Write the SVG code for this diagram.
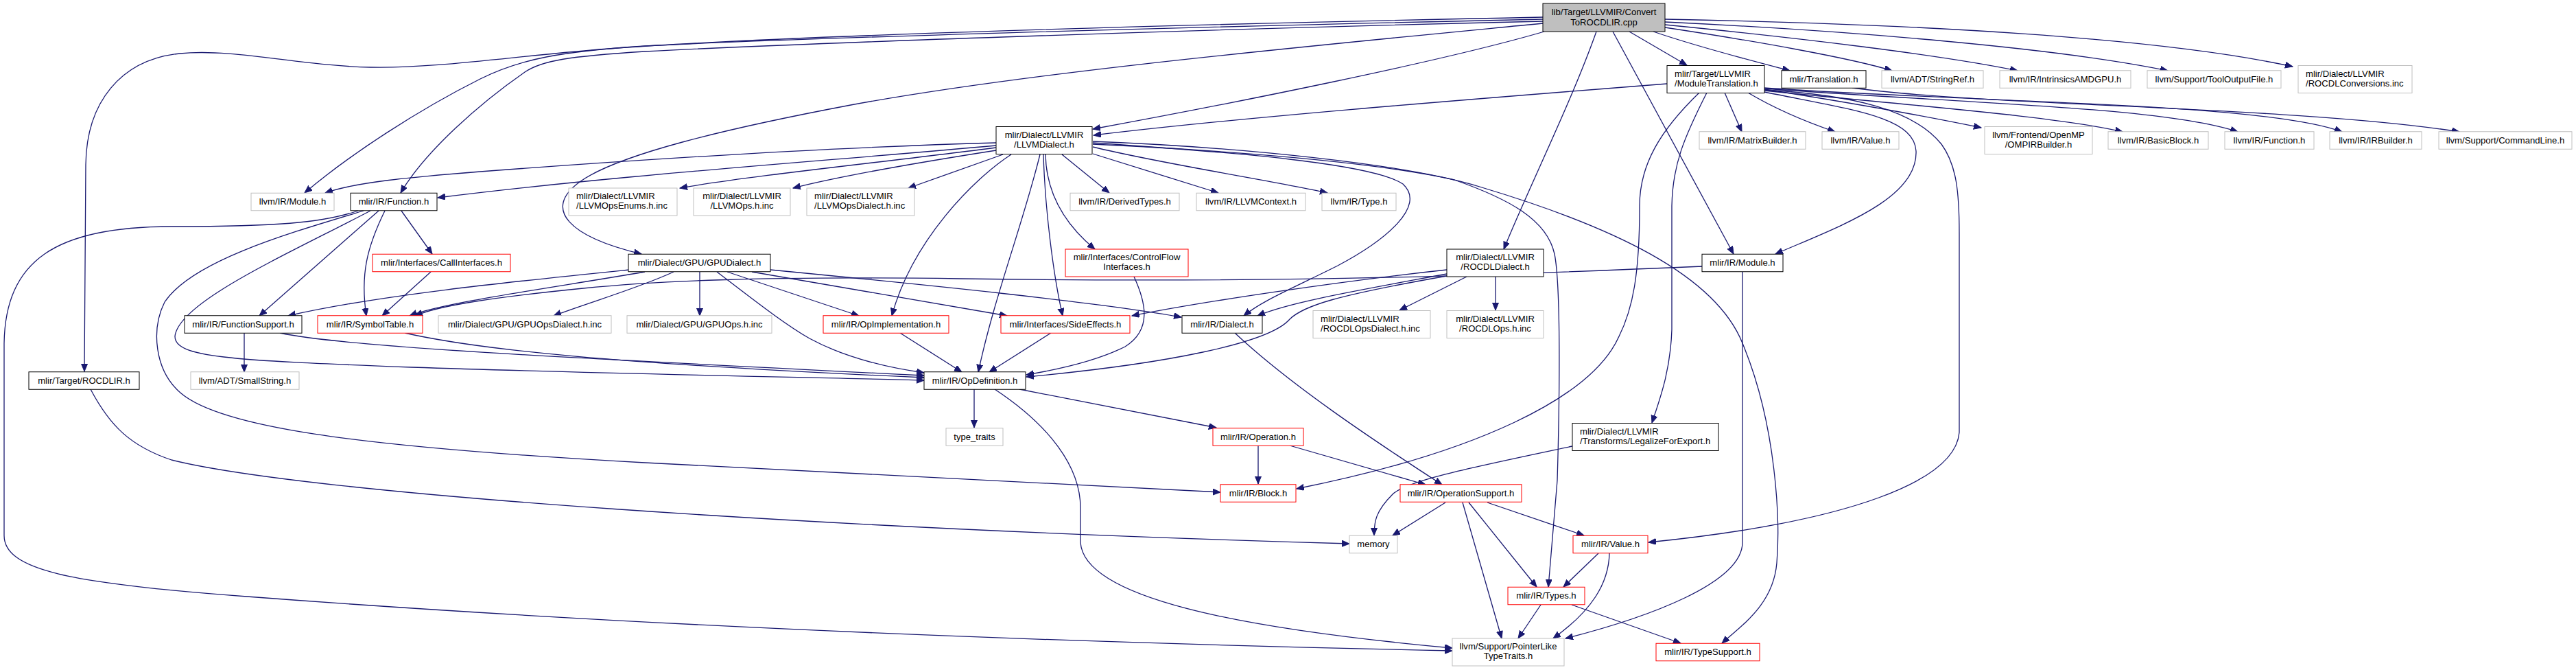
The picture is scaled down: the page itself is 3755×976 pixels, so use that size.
<svg xmlns="http://www.w3.org/2000/svg" width="3755" height="976" viewBox="0 0 3755 976">
<style>
rect{fill:#fff;stroke-width:1}
.k rect{stroke:#000}
.g rect{stroke:#bfbfbf}
.r rect{stroke:#ff0000}
.m rect{fill:#bfbfbf;stroke:#000}
text{font-family:"Liberation Sans",Arial,Helvetica,sans-serif;font-size:13.1px;fill:#000;text-anchor:middle}
text.l{text-anchor:start}
#edges path{fill:none;stroke:#191970;stroke-width:1.3;marker-end:url(#a)}
</style>
<defs>
<marker id="a" markerUnits="userSpaceOnUse" markerWidth="12" markerHeight="10" refX="11" refY="4.5" orient="auto">
<path d="M0,0 L11,4.5 L0,9 z" fill="#191970" stroke="#191970" stroke-width="1"/>
</marker>
</defs>
<rect x="0" y="0" width="3755" height="976" style="fill:#fff;stroke:none"/>
<g id="edges">
<path d="M2249,25 C1700,36 1150,52 900,70 C760,80 640,100 540,98 C440,96 340,70 262,78 C175,87 126,150 125,240 L123,541"/>
<path d="M2249,28 C1700,40 1150,56 940,67 C820,75 760,85 700,115 C610,160 510,225 444,281"/>
<path d="M2249,31 C1700,44 1150,64 940,75 C830,82 790,88 765,105 C700,150 620,220 584,281"/>
<path d="M2249,34 C1900,68 1500,105 1240,153 C1060,187 900,225 845,265 C790,305 830,345 935,370"/>
<path d="M2251,46 C2100,90 1800,150 1593,188"/>
<path d="M2327,46 C2290,150 2230,270 2192,363"/>
<path d="M2351,46 L2527,370"/>
<path d="M2375,46 L2459,95"/>
<path d="M2410,46 C2480,70 2560,90 2609,103"/>
<path d="M2427,40 C2560,60 2700,85 2758,103"/>
<path d="M2427,36 C2620,55 2830,80 2941,103"/>
<path d="M2427,32 C2700,45 3000,70 3160,103"/>
<path d="M2427,28 C2800,35 3150,55 3342,97"/>
<path d="M2430,122 C2100,148 1800,172 1594,197"/>
<path d="M2514,135 L2539,192"/>
<path d="M2548,135 C2590,160 2640,180 2675,192"/>
<path d="M2572,130 C2700,150 2820,172 2888,186"/>
<path d="M2572,132 C2800,155 3000,170 3094,192"/>
<path d="M2572,129 C2850,150 3150,155 3262,192"/>
<path d="M2572,128 C2900,150 3300,150 3414,192"/>
<path d="M2700,128 C2900,155 3350,155 3585,192"/>
<path d="M2572,134 C2700,160 2790,170 2793,220 C2796,290 2680,330 2588,370"/>
<path d="M2477,135 C2420,190 2390,240 2390,300 C2390,400 2380,450 2360,490 C2320,580 2150,660 1890,712"/>
<path d="M2488,135 C2455,200 2438,240 2437,300 L2437,480 C2435,540 2420,580 2408,616"/>
<path d="M2572,131 C2700,138 2790,160 2830,210 C2852,240 2856,280 2856,340 L2856,630 C2850,700 2700,760 2403,790"/>
<path d="M1452,208 C1200,215 900,235 700,250 C600,258 520,265 474,281"/>
<path d="M1452,212 C1200,235 900,255 638,288"/>
<path d="M1452,215 C1300,235 1100,255 991,274"/>
<path d="M1452,219 C1350,235 1230,255 1156,274"/>
<path d="M1462,225 L1324,274"/>
<path d="M1548,225 L1617,281"/>
<path d="M1593,224 L1776,281"/>
<path d="M1593,214 C1700,240 1850,262 1935,281"/>
<path d="M1524,225 C1525,280 1550,325 1596,363"/>
<path d="M1521,225 C1523,300 1535,400 1549,460"/>
<path d="M1474,225 C1420,260 1330,350 1300,460"/>
<path d="M1516,225 C1490,330 1450,430 1426,542"/>
<path d="M1593,208 C1800,222 2000,238 2045,268 C2080,300 2020,350 1950,387 C1880,422 1840,438 1813,460"/>
<path d="M1593,210 C1800,220 2000,235 2120,262 C2200,290 2255,320 2266,370 C2276,420 2273,600 2270,700 L2257,855"/>
<path d="M1593,206 C1800,214 2050,238 2160,273 C2350,330 2500,400 2540,500 C2590,620 2595,760 2590,820 C2585,880 2540,910 2510,937"/>
<path d="M522,307 C470,325 400,330 250,330 C80,330 8,380 6,500 L6,780 C6,830 100,850 360,869 C900,910 1500,935 2117,948"/>
<path d="M530,307 C420,340 280,380 240,440 C220,480 225,540 264,573 C320,620 500,650 940,674 C1300,695 1600,710 1779,717"/>
<path d="M540,307 C420,370 260,440 255,490 C255,520 330,525 600,535 C900,545 1200,550 1347,554"/>
<path d="M552,307 L378,460"/>
<path d="M561,307 C535,360 525,400 534,460"/>
<path d="M585,307 L630,370"/>
<path d="M628,396 L557,460"/>
<path d="M356,485 L356,542"/>
<path d="M408,485 C500,505 800,520 1347,547"/>
<path d="M590,485 C700,510 900,530 1347,550"/>
<path d="M917,393 C750,410 550,430 420,460"/>
<path d="M940,396 C800,420 650,440 597,460"/>
<path d="M982,396 C930,420 860,440 807,460"/>
<path d="M1020,396 L1020,460"/>
<path d="M1060,396 L1252,460"/>
<path d="M1096,396 L1468,460"/>
<path d="M1123,393 C1350,415 1600,440 1722,462"/>
<path d="M1045,396 C1090,430 1140,470 1180,493 C1230,520 1290,535 1347,543"/>
<path d="M1653,403 C1670,440 1680,480 1640,505 C1600,525 1550,537 1496,546"/>
<path d="M1532,485 L1442,542"/>
<path d="M1312,485 L1402,542"/>
<path d="M2109,402 C1950,430 1900,445 1880,465 C1850,500 1700,530 1496,549"/>
<path d="M2109,393 C1950,410 1750,440 1650,460"/>
<path d="M2109,399 C1980,423 1880,440 1833,460"/>
<path d="M2138,403 L2040,452"/>
<path d="M2180,403 L2180,452"/>
<path d="M2481,388 C2200,400 1900,413 1400,406 C1100,402 950,410 850,420 C720,433 640,445 605,460"/>
<path d="M2540,396 L2540,790 C2540,850 2400,900 2282,930"/>
<path d="M1800,485 C1880,560 2000,640 2102,706"/>
<path d="M1420,567 L1420,623"/>
<path d="M1486,567 L1773,623"/>
<path d="M1450,567 C1530,620 1575,680 1575,740 L1575,790 C1580,870 1800,915 2117,944"/>
<path d="M1834,649 L1834,705"/>
<path d="M1880,649 L2078,706"/>
<path d="M2107,732 L2030,780"/>
<path d="M2141,732 L2240,855"/>
<path d="M2132,732 L2189,930"/>
<path d="M2168,732 L2309,780"/>
<path d="M2292,650 C2150,680 2050,700 2030,720 C2005,745 2003,760 2003,780"/>
<path d="M132,567 C160,620 190,650 250,670 C450,720 1200,770 1967,792"/>
<path d="M2330,806 L2279,855"/>
<path d="M2346,806 C2345,850 2320,890 2264,930"/>
<path d="M2246,881 L2213,930"/>
<path d="M2291,881 L2450,937"/>
</g>
<g id="n_main" class="m"><rect x="2249" y="5" width="178" height="41"/><text x="2338" y="22">lib/Target/LLVMIR/Convert</text><text x="2338" y="36.5">ToROCDLIR.cpp</text></g>
<g id="n_moduletranslation" class="k"><rect x="2430" y="95.5" width="142" height="40"/><text class="l" x="2441" y="111.8">mlir/Target/LLVMIR</text><text class="l" x="2441" y="125.8">/ModuleTranslation.h</text></g>
<g id="n_translation" class="k"><rect x="2597" y="102.75" width="123" height="25.5"/><text x="2658.5" y="119.8">mlir/Translation.h</text></g>
<g id="n_stringref" class="g"><rect x="2743" y="102.75" width="148" height="25.5"/><text x="2817" y="119.8">llvm/ADT/StringRef.h</text></g>
<g id="n_intrinsics" class="g"><rect x="2915" y="102.75" width="191" height="25.5"/><text x="3010.5" y="119.8">llvm/IR/IntrinsicsAMDGPU.h</text></g>
<g id="n_tooloutput" class="g"><rect x="3130" y="102.75" width="195" height="25.5"/><text x="3227.5" y="119.8">llvm/Support/ToolOutputFile.h</text></g>
<g id="n_rocdlconv" class="g"><rect x="3350" y="95.5" width="166" height="40"/><text class="l" x="3361" y="111.8">mlir/Dialect/LLVMIR</text><text class="l" x="3361" y="125.8">/ROCDLConversions.inc</text></g>
<g id="n_llvmdialect" class="k"><rect x="1452" y="184.5" width="140" height="40"/><text x="1522" y="200.8">mlir/Dialect/LLVMIR</text><text x="1522" y="214.8">/LLVMDialect.h</text></g>
<g id="n_matrixbuilder" class="g"><rect x="2477" y="191.75" width="155" height="25.5"/><text x="2554.5" y="208.8">llvm/IR/MatrixBuilder.h</text></g>
<g id="n_llvmvalue" class="g"><rect x="2656" y="191.75" width="112" height="25.5"/><text x="2712" y="208.8">llvm/IR/Value.h</text></g>
<g id="n_ompirbuilder" class="g"><rect x="2893" y="184.5" width="157" height="40"/><text x="2971.5" y="200.8">llvm/Frontend/OpenMP</text><text x="2971.5" y="214.8">/OMPIRBuilder.h</text></g>
<g id="n_basicblock" class="g"><rect x="3073" y="191.75" width="146" height="25.5"/><text x="3146" y="208.8">llvm/IR/BasicBlock.h</text></g>
<g id="n_llvmfunction" class="g"><rect x="3243" y="191.75" width="130" height="25.5"/><text x="3308" y="208.8">llvm/IR/Function.h</text></g>
<g id="n_irbuilder" class="g"><rect x="3396" y="191.75" width="134" height="25.5"/><text x="3463" y="208.8">llvm/IR/IRBuilder.h</text></g>
<g id="n_commandline" class="g"><rect x="3555" y="191.75" width="194" height="25.5"/><text x="3652" y="208.8">llvm/Support/CommandLine.h</text></g>
<g id="n_llvmmodule" class="g"><rect x="366" y="281.25" width="121" height="25.5"/><text x="426.5" y="298.3">llvm/IR/Module.h</text></g>
<g id="n_function" class="k"><rect x="511" y="281.25" width="126" height="25.5"/><text x="574" y="298.3">mlir/IR/Function.h</text></g>
<g id="n_llvmopsenums" class="g"><rect x="829" y="274" width="158" height="40"/><text class="l" x="840" y="290.3">mlir/Dialect/LLVMIR</text><text class="l" x="840" y="304.3">/LLVMOpsEnums.h.inc</text></g>
<g id="n_llvmops" class="g"><rect x="1011" y="274" width="141" height="40"/><text x="1081.5" y="290.3">mlir/Dialect/LLVMIR</text><text x="1081.5" y="304.3">/LLVMOps.h.inc</text></g>
<g id="n_llvmopsdialect" class="g"><rect x="1176" y="274" width="157" height="40"/><text class="l" x="1187" y="290.3">mlir/Dialect/LLVMIR</text><text class="l" x="1187" y="304.3">/LLVMOpsDialect.h.inc</text></g>
<g id="n_derivedtypes" class="g"><rect x="1560" y="281.25" width="159" height="25.5"/><text x="1639.5" y="298.3">llvm/IR/DerivedTypes.h</text></g>
<g id="n_llvmcontext" class="g"><rect x="1744" y="281.25" width="159" height="25.5"/><text x="1823.5" y="298.3">llvm/IR/LLVMContext.h</text></g>
<g id="n_type" class="g"><rect x="1927" y="281.25" width="108" height="25.5"/><text x="1981" y="298.3">llvm/IR/Type.h</text></g>
<g id="n_callinterfaces" class="r"><rect x="543" y="370.25" width="201" height="25.5"/><text x="643.5" y="387.3">mlir/Interfaces/CallInterfaces.h</text></g>
<g id="n_gpudialect" class="k"><rect x="916" y="370.25" width="207" height="25.5"/><text x="1019.5" y="387.3">mlir/Dialect/GPU/GPUDialect.h</text></g>
<g id="n_controlflow" class="r"><rect x="1553" y="363" width="179" height="40"/><text x="1642.5" y="379.3">mlir/Interfaces/ControlFlow</text><text x="1642.5" y="393.3">Interfaces.h</text></g>
<g id="n_rocdldialect" class="k"><rect x="2109" y="363" width="141" height="40"/><text x="2179.5" y="379.3">mlir/Dialect/LLVMIR</text><text x="2179.5" y="393.3">/ROCDLDialect.h</text></g>
<g id="n_mlirmodule" class="k"><rect x="2481" y="370.25" width="118" height="25.5"/><text x="2540" y="387.3">mlir/IR/Module.h</text></g>
<g id="n_functionsupport" class="k"><rect x="269" y="459.75" width="171" height="25.5"/><text x="354.5" y="476.8">mlir/IR/FunctionSupport.h</text></g>
<g id="n_symboltable" class="r"><rect x="463" y="459.75" width="153" height="25.5"/><text x="539.5" y="476.8">mlir/IR/SymbolTable.h</text></g>
<g id="n_gpuopsdialect" class="g"><rect x="639" y="459.75" width="252" height="25.5"/><text x="765" y="476.8">mlir/Dialect/GPU/GPUOpsDialect.h.inc</text></g>
<g id="n_gpuops" class="g"><rect x="914" y="459.75" width="211" height="25.5"/><text x="1019.5" y="476.8">mlir/Dialect/GPU/GPUOps.h.inc</text></g>
<g id="n_opimplementation" class="r"><rect x="1200" y="459.75" width="183" height="25.5"/><text x="1291.5" y="476.8">mlir/IR/OpImplementation.h</text></g>
<g id="n_sideeffects" class="r"><rect x="1459" y="459.75" width="188" height="25.5"/><text x="1553" y="476.8">mlir/Interfaces/SideEffects.h</text></g>
<g id="n_dialect" class="k"><rect x="1723" y="459.75" width="117" height="25.5"/><text x="1781.5" y="476.8">mlir/IR/Dialect.h</text></g>
<g id="n_rocdlopsdialect" class="g"><rect x="1914" y="452.5" width="171" height="40"/><text class="l" x="1925" y="468.8">mlir/Dialect/LLVMIR</text><text class="l" x="1925" y="482.8">/ROCDLOpsDialect.h.inc</text></g>
<g id="n_rocdlops" class="g"><rect x="2109" y="452.5" width="141" height="40"/><text x="2179.5" y="468.8">mlir/Dialect/LLVMIR</text><text x="2179.5" y="482.8">/ROCDLOps.h.inc</text></g>
<g id="n_rocdlir" class="k"><rect x="42" y="541.75" width="161" height="25.5"/><text x="122.5" y="558.8">mlir/Target/ROCDLIR.h</text></g>
<g id="n_smallstring" class="g"><rect x="278" y="541.75" width="158" height="25.5"/><text x="357" y="558.8">llvm/ADT/SmallString.h</text></g>
<g id="n_opdefinition" class="k"><rect x="1347" y="541.75" width="148" height="25.5"/><text x="1421" y="558.8">mlir/IR/OpDefinition.h</text></g>
<g id="n_typetraits" class="g"><rect x="1379" y="623.75" width="83" height="25.5"/><text x="1420.5" y="640.8">type_traits</text></g>
<g id="n_operation" class="r"><rect x="1768" y="623.75" width="132" height="25.5"/><text x="1834" y="640.8">mlir/IR/Operation.h</text></g>
<g id="n_legalize" class="k"><rect x="2292" y="616.5" width="213" height="40"/><text class="l" x="2303" y="632.8">mlir/Dialect/LLVMIR</text><text class="l" x="2303" y="646.8">/Transforms/LegalizeForExport.h</text></g>
<g id="n_block" class="r"><rect x="1779" y="705.75" width="110" height="25.5"/><text x="1834" y="722.8">mlir/IR/Block.h</text></g>
<g id="n_operationsupport" class="r"><rect x="2041" y="705.75" width="177" height="25.5"/><text x="2129.5" y="722.8">mlir/IR/OperationSupport.h</text></g>
<g id="n_memory" class="g"><rect x="1967" y="780.25" width="70" height="25.5"/><text x="2002" y="797.3">memory</text></g>
<g id="n_mlirvalue" class="r"><rect x="2293" y="780.25" width="109" height="25.5"/><text x="2347.5" y="797.3">mlir/IR/Value.h</text></g>
<g id="n_types" class="r"><rect x="2198" y="855.25" width="112" height="25.5"/><text x="2254" y="872.3">mlir/IR/Types.h</text></g>
<g id="n_pointerlike" class="g"><rect x="2117" y="930" width="163" height="40"/><text x="2198.5" y="946.3">llvm/Support/PointerLike</text><text x="2198.5" y="960.3">TypeTraits.h</text></g>
<g id="n_typesupport" class="r"><rect x="2414" y="937.25" width="151" height="25.5"/><text x="2489.5" y="954.3">mlir/IR/TypeSupport.h</text></g>
</svg>
